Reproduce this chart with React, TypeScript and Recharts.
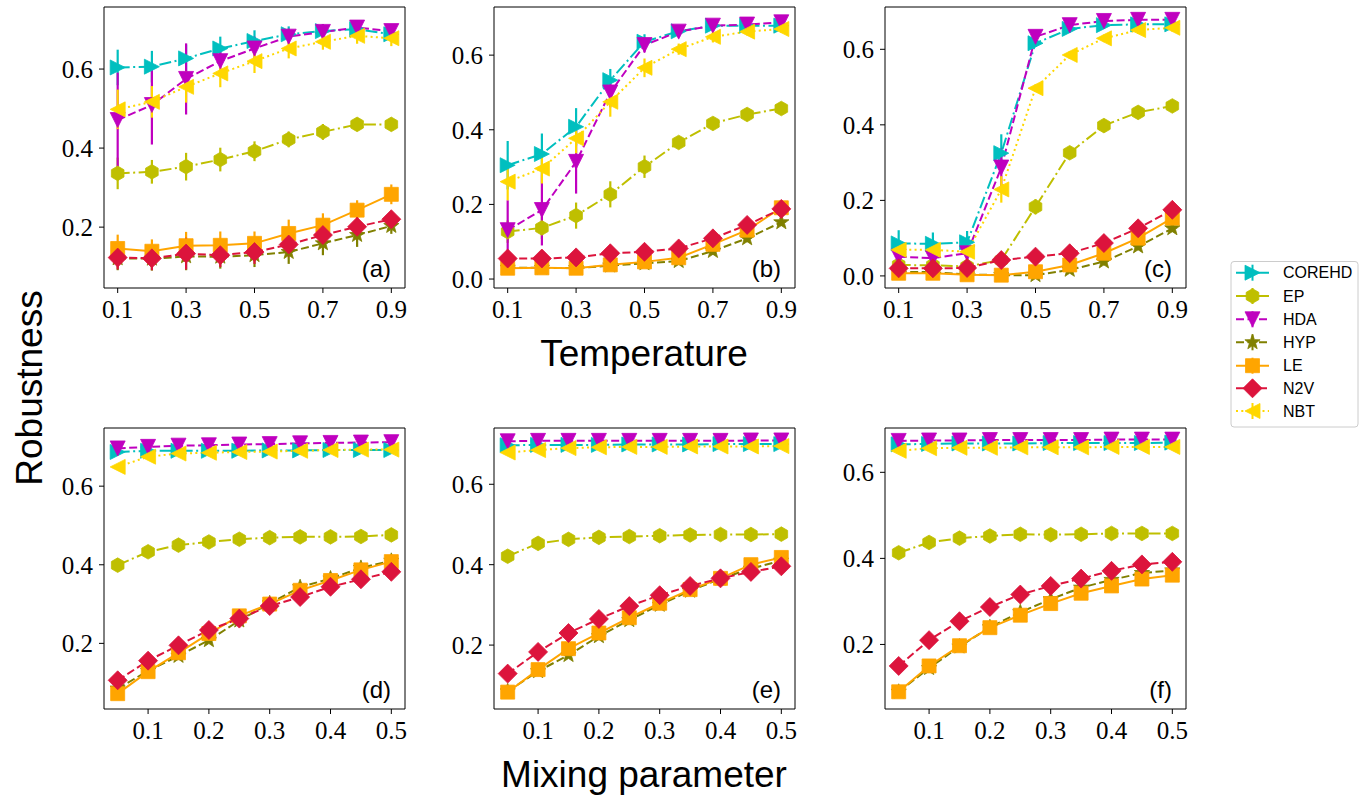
import React from 'react';
import { LineChart, Line, XAxis, YAxis, ErrorBar, ReferenceLine } from 'recharts';

// ---------- categories / axes ----------
const SERIES_NAMES = ['COREHD', 'EP', 'HDA', 'HYP', 'LE', 'N2V', 'NBT'];
const temperatureX = [0.1, 0.2, 0.3, 0.4, 0.5, 0.6, 0.7, 0.8, 0.9];
const mixingX = [0.05, 0.1, 0.15, 0.2, 0.25, 0.3, 0.35, 0.4, 0.45, 0.5];
const temperatureTicks = [0.1, 0.3, 0.5, 0.7, 0.9];
const mixingTicks = [0.1, 0.2, 0.3, 0.4, 0.5];
const yTicksA = [0.2, 0.4, 0.6];
const yTicksB = [0.0, 0.2, 0.4, 0.6];

// ---------- panel (a) ----------
const aCOREHD = [0.604, 0.606, 0.627, 0.652, 0.671, 0.688, 0.696, 0.701, 0.688];
const aEP = [0.336, 0.340, 0.353, 0.371, 0.392, 0.422, 0.441, 0.460, 0.460];
const aHDA = [0.471, 0.509, 0.575, 0.620, 0.652, 0.682, 0.694, 0.705, 0.696];
const aHYP = [0.121, 0.120, 0.126, 0.125, 0.129, 0.137, 0.159, 0.180, 0.203];
const aLE = [0.146, 0.139, 0.153, 0.154, 0.159, 0.184, 0.205, 0.243, 0.283];
const aN2V = [0.123, 0.121, 0.133, 0.129, 0.137, 0.156, 0.180, 0.201, 0.220];
const aNBT = [0.498, 0.517, 0.555, 0.589, 0.620, 0.652, 0.669, 0.684, 0.678];
const aCOREHDErr = [0.045, 0.04, 0.035, 0.03, 0.027, 0.02, 0.018, 0.015, 0.015];
const aEPErr = [0.04, 0.03, 0.035, 0.03, 0.025, 0.02, 0.02, 0.015, 0.012];
const aHDAErr = [0.12, 0.1, 0.09, 0.04, 0.03, 0.02, 0.02, 0.015, 0.015];
const aHYPErr = [0.03, 0.03, 0.035, 0.03, 0.03, 0.03, 0.03, 0.03, 0.02];
const aLEErr = [0.035, 0.03, 0.035, 0.035, 0.03, 0.035, 0.03, 0.025, 0.025];
const aN2VErr = [0.03, 0.03, 0.04, 0.03, 0.03, 0.03, 0.03, 0.025, 0.02];
const aNBTErr = [0.05, 0.04, 0.04, 0.035, 0.03, 0.025, 0.02, 0.02, 0.02];

// ---------- panel (b) ----------
const bCOREHD = [0.305, 0.335, 0.408, 0.533, 0.636, 0.664, 0.679, 0.679, 0.679];
const bEP = [0.127, 0.137, 0.170, 0.227, 0.301, 0.366, 0.417, 0.441, 0.457];
const bHDA = [0.131, 0.185, 0.314, 0.500, 0.627, 0.663, 0.679, 0.682, 0.688];
const bHYP = [0.030, 0.030, 0.029, 0.036, 0.042, 0.048, 0.075, 0.109, 0.152];
const bLE = [0.029, 0.030, 0.029, 0.038, 0.046, 0.057, 0.093, 0.131, 0.191];
const bN2V = [0.055, 0.055, 0.058, 0.069, 0.073, 0.082, 0.109, 0.145, 0.188];
const bNBT = [0.261, 0.296, 0.377, 0.475, 0.566, 0.616, 0.649, 0.663, 0.670];
const bCOREHDErr = [0.065, 0.055, 0.05, 0.03, 0.02, 0.015, 0.01, 0.01, 0.01];
const bEPErr = [0.03, 0.03, 0.035, 0.035, 0.03, 0.015, 0.01, 0.01, 0.01];
const bHDAErr = [0.08, 0.095, 0.085, 0.04, 0.02, 0.015, 0.01, 0.01, 0.01];
const bHYPErr = [0.01, 0.01, 0.01, 0.01, 0.01, 0.01, 0.01, 0.01, 0.01];
const bLEErr = [0.01, 0.01, 0.01, 0.01, 0.01, 0.01, 0.01, 0.01, 0.01];
const bN2VErr = [0.01, 0.01, 0.01, 0.01, 0.01, 0.01, 0.01, 0.01, 0.01];
const bNBTErr = [0.05, 0.04, 0.04, 0.04, 0.025, 0.015, 0.015, 0.01, 0.01];

// ---------- panel (c) ----------
const cCOREHD = [0.086, 0.085, 0.089, 0.325, 0.616, 0.654, 0.664, 0.666, 0.666];
const cEP = [0.029, 0.028, 0.025, 0.042, 0.183, 0.326, 0.398, 0.433, 0.450];
const cHDA = [0.051, 0.047, 0.060, 0.287, 0.633, 0.664, 0.675, 0.678, 0.678];
const cHYP = [0.011, 0.010, 0.004, 0.002, 0.002, 0.016, 0.038, 0.078, 0.126];
const cLE = [0.007, 0.007, 0.003, 0.002, 0.011, 0.029, 0.060, 0.100, 0.153];
const cN2V = [0.020, 0.020, 0.021, 0.042, 0.051, 0.060, 0.087, 0.126, 0.175];
const cNBT = [0.069, 0.069, 0.064, 0.229, 0.497, 0.585, 0.629, 0.651, 0.657];
const cCOREHDErr = [0.035, 0.03, 0.03, 0.05, 0.01, 0.01, 0.01, 0.01, 0.01];
const cEPErr = [0.005, 0.005, 0.005, 0.01, 0.02, 0.01, 0.01, 0.01, 0.01];
const cHDAErr = [0.02, 0.02, 0.02, 0.05, 0.01, 0.01, 0.01, 0.01, 0.01];
const cHYPErr = [0.005, 0.005, 0.005, 0.005, 0.005, 0.005, 0.01, 0.01, 0.01];
const cLEErr = [0.005, 0.005, 0.005, 0.005, 0.005, 0.005, 0.01, 0.01, 0.01];
const cN2VErr = [0.005, 0.005, 0.005, 0.005, 0.005, 0.005, 0.01, 0.01, 0.01];
const cNBTErr = [0.01, 0.01, 0.01, 0.035, 0.01, 0.01, 0.01, 0.01, 0.01];

// ---------- panel (d) ----------
const dCOREHD = [0.687, 0.690, 0.690, 0.690, 0.690, 0.691, 0.691, 0.692, 0.692, 0.692];
const dEP = [0.399, 0.433, 0.450, 0.458, 0.465, 0.469, 0.471, 0.471, 0.472, 0.476];
const dHDA = [0.696, 0.700, 0.703, 0.704, 0.706, 0.707, 0.709, 0.710, 0.711, 0.712];
const dHYP = [0.085, 0.130, 0.168, 0.208, 0.258, 0.302, 0.343, 0.365, 0.392, 0.410];
const dLE = [0.072, 0.128, 0.176, 0.225, 0.270, 0.300, 0.335, 0.360, 0.387, 0.408];
const dN2V = [0.106, 0.156, 0.195, 0.234, 0.263, 0.295, 0.318, 0.344, 0.363, 0.382];
const dNBT = [0.649, 0.675, 0.683, 0.685, 0.687, 0.688, 0.690, 0.692, 0.693, 0.693];

// ---------- panel (e) ----------
const eCOREHD = [0.697, 0.698, 0.698, 0.698, 0.699, 0.699, 0.699, 0.700, 0.700, 0.700];
const eEP = [0.421, 0.453, 0.463, 0.468, 0.470, 0.472, 0.474, 0.475, 0.475, 0.476];
const eHDA = [0.707, 0.708, 0.708, 0.708, 0.708, 0.708, 0.708, 0.708, 0.709, 0.709];
const eHYP = [0.085, 0.135, 0.175, 0.222, 0.262, 0.300, 0.335, 0.365, 0.390, 0.410];
const eLE = [0.083, 0.139, 0.191, 0.230, 0.268, 0.304, 0.338, 0.366, 0.400, 0.418];
const eN2V = [0.129, 0.183, 0.230, 0.265, 0.297, 0.324, 0.347, 0.366, 0.382, 0.396];
const eNBT = [0.679, 0.685, 0.690, 0.692, 0.693, 0.693, 0.694, 0.694, 0.694, 0.695];

// ---------- panel (f) ----------
const fCOREHD = [0.665, 0.666, 0.667, 0.667, 0.667, 0.668, 0.668, 0.668, 0.668, 0.669];
const fEP = [0.413, 0.437, 0.447, 0.452, 0.456, 0.455, 0.456, 0.458, 0.458, 0.458];
const fHDA = [0.673, 0.674, 0.674, 0.675, 0.675, 0.675, 0.675, 0.676, 0.676, 0.676];
const fHYP = [0.090, 0.145, 0.195, 0.240, 0.275, 0.305, 0.332, 0.350, 0.366, 0.372];
const fLE = [0.090, 0.150, 0.197, 0.239, 0.268, 0.295, 0.319, 0.336, 0.352, 0.361];
const fN2V = [0.150, 0.210, 0.254, 0.287, 0.316, 0.336, 0.353, 0.371, 0.386, 0.392];
const fNBT = [0.650, 0.656, 0.657, 0.657, 0.658, 0.658, 0.658, 0.659, 0.659, 0.659];

// ---------- styles ----------
const STYLE: Record<string, { color: string; dash?: string; shape: string }> = {
  COREHD: { color: '#00bfbf', dash: '12 3.5 2 3.5', shape: 'tri-right' },
  EP: { color: '#bfbf00', dash: '12 3.5 2 3.5', shape: 'hexagon' },
  HDA: { color: '#bf00bf', dash: '8 3.5', shape: 'tri-down' },
  HYP: { color: '#808000', dash: '8 3.5', shape: 'star' },
  LE: { color: '#ffa500', dash: undefined, shape: 'square' },
  N2V: { color: '#dc143c', dash: '8 3.5', shape: 'diamond' },
  NBT: { color: '#ffd700', dash: '2 3.3', shape: 'tri-left' },
};

function markerPath(shape: string, cx: number, cy: number): string {
  const h = 7.5;
  switch (shape) {
    case 'tri-right':
      return `M${cx + h},${cy} L${cx - h},${cy - h} L${cx - h},${cy + h} Z`;
    case 'tri-left':
      return `M${cx - h},${cy} L${cx + h},${cy - h} L${cx + h},${cy + h} Z`;
    case 'tri-down':
      return `M${cx},${cy + h} L${cx - h},${cy - h} L${cx + h},${cy - h} Z`;
    case 'square': {
      const s = 7;
      return `M${cx - s},${cy - s} L${cx + s},${cy - s} L${cx + s},${cy + s} L${cx - s},${cy + s} Z`;
    }
    case 'diamond': {
      const d = 9.5;
      return `M${cx},${cy - d} L${cx + d},${cy} L${cx},${cy + d} L${cx - d},${cy} Z`;
    }
    case 'hexagon': {
      const r = 7.3;
      let p = '';
      for (let k = 0; k < 6; k++) {
        const a = (Math.PI / 180) * (90 + 60 * k);
        p += `${k === 0 ? 'M' : 'L'}${cx + r * Math.cos(a)},${cy - r * Math.sin(a)} `;
      }
      return p + 'Z';
    }
    case 'star': {
      const R = 8, r = 3.3;
      let p = '';
      for (let k = 0; k < 10; k++) {
        const rad = k % 2 === 0 ? R : r;
        const a = (Math.PI / 180) * (90 + 36 * k);
        p += `${k === 0 ? 'M' : 'L'}${cx + rad * Math.cos(a)},${cy - rad * Math.sin(a)} `;
      }
      return p + 'Z';
    }
    default:
      return '';
  }
}

const makeDot = (name: string) => (props: any) => {
  const { cx, cy, index } = props;
  const st = STYLE[name];
  if (cx == null || cy == null || isNaN(cx) || isNaN(cy)) return <g key={`${name}-${index}`} />;
  return (
    <path
      key={`${name}-${index}`}
      d={markerPath(st.shape, cx, cy)}
      fill={st.color}
      stroke={st.color}
      strokeWidth={0.8}
    />
  );
};

interface PanelSpec {
  label: string;
  left: number;
  top: number;
  x: number[];
  xDomain: [number, number];
  xTicks: number[];
  yDomain: [number, number];
  yTicks: number[];
  values: Record<string, number[]>;
  errors?: Record<string, number[]>;
}

const PLOT_W = 301;
const PLOT_H = 281;
const Y_AXIS_W = 60;
const M_TOP = 5;
const M_RIGHT = 5;
const X_AXIS_H = 42;

const PANELS: PanelSpec[] = [
  {
    label: '(a)', left: 104, top: 7, x: temperatureX, xDomain: [0.06, 0.94], xTicks: temperatureTicks,
    yDomain: [0.046, 0.757], yTicks: yTicksA,
    values: { COREHD: aCOREHD, EP: aEP, HDA: aHDA, HYP: aHYP, LE: aLE, N2V: aN2V, NBT: aNBT },
    errors: { COREHD: aCOREHDErr, EP: aEPErr, HDA: aHDAErr, HYP: aHYPErr, LE: aLEErr, N2V: aN2VErr, NBT: aNBTErr },
  },
  {
    label: '(b)', left: 494, top: 7, x: temperatureX, xDomain: [0.06, 0.94], xTicks: temperatureTicks,
    yDomain: [-0.024, 0.729], yTicks: yTicksB,
    values: { COREHD: bCOREHD, EP: bEP, HDA: bHDA, HYP: bHYP, LE: bLE, N2V: bN2V, NBT: bNBT },
    errors: { COREHD: bCOREHDErr, EP: bEPErr, HDA: bHDAErr, HYP: bHYPErr, LE: bLEErr, N2V: bN2VErr, NBT: bNBTErr },
  },
  {
    label: '(c)', left: 885, top: 7, x: temperatureX, xDomain: [0.06, 0.94], xTicks: temperatureTicks,
    yDomain: [-0.032, 0.712], yTicks: yTicksB,
    values: { COREHD: cCOREHD, EP: cEP, HDA: cHDA, HYP: cHYP, LE: cLE, N2V: cN2V, NBT: cNBT },
    errors: { COREHD: cCOREHDErr, EP: cEPErr, HDA: cHDAErr, HYP: cHYPErr, LE: cLEErr, N2V: cN2VErr, NBT: cNBTErr },
  },
  {
    label: '(d)', left: 104, top: 428, x: mixingX, xDomain: [0.0275, 0.5225], xTicks: mixingTicks,
    yDomain: [0.033, 0.748], yTicks: yTicksA,
    values: { COREHD: dCOREHD, EP: dEP, HDA: dHDA, HYP: dHYP, LE: dLE, N2V: dN2V, NBT: dNBT },
  },
  {
    label: '(e)', left: 494, top: 428, x: mixingX, xDomain: [0.0275, 0.5225], xTicks: mixingTicks,
    yDomain: [0.041, 0.740], yTicks: yTicksA,
    values: { COREHD: eCOREHD, EP: eEP, HDA: eHDA, HYP: eHYP, LE: eLE, N2V: eN2V, NBT: eNBT },
  },
  {
    label: '(f)', left: 885, top: 428, x: mixingX, xDomain: [0.0275, 0.5225], xTicks: mixingTicks,
    yDomain: [0.050, 0.703], yTicks: yTicksA,
    values: { COREHD: fCOREHD, EP: fEP, HDA: fHDA, HYP: fHYP, LE: fLE, N2V: fN2V, NBT: fNBT },
  },
];

const tickStyle = { fontFamily: '"Liberation Serif", serif', fontSize: 25, fill: '#000' };

function Panel({ spec }: { spec: PanelSpec }) {
  const data = spec.x.map((xv, i) => {
    const row: Record<string, number> = { x: xv };
    SERIES_NAMES.forEach((n) => {
      row[n] = spec.values[n][i];
      if (spec.errors) row[`${n}_err`] = spec.errors[n][i];
    });
    return row;
  });
  return (
    <div
      style={{
        position: 'absolute',
        left: spec.left - Y_AXIS_W,
        top: spec.top - M_TOP,
      }}
    >
      <LineChart
        width={Y_AXIS_W + PLOT_W + M_RIGHT}
        height={M_TOP + PLOT_H + X_AXIS_H}
        data={data}
        margin={{ top: M_TOP, right: M_RIGHT, bottom: 0, left: 0 }}
      >
        <XAxis
          dataKey="x"
          type="number"
          domain={spec.xDomain}
          allowDataOverflow
          ticks={spec.xTicks}
          interval={0}
          tickFormatter={(v: number) => v.toFixed(1)}
          tick={tickStyle}
          tickSize={5}
          tickMargin={7}
          height={X_AXIS_H}
          axisLine={{ stroke: '#000', strokeWidth: 1 }}
          tickLine={{ stroke: '#000', strokeWidth: 1 }}
        />
        <YAxis
          type="number"
          domain={spec.yDomain}
          allowDataOverflow
          ticks={spec.yTicks}
          interval={0}
          tickFormatter={(v: number) => v.toFixed(1)}
          tick={tickStyle}
          tickSize={5}
          tickMargin={6}
          width={Y_AXIS_W}
          axisLine={{ stroke: '#000', strokeWidth: 1 }}
          tickLine={{ stroke: '#000', strokeWidth: 1 }}
        />
        <ReferenceLine y={spec.yDomain[1]} stroke="#000" strokeWidth={1} ifOverflow="visible" />
        <ReferenceLine x={spec.xDomain[1]} stroke="#000" strokeWidth={1} ifOverflow="visible" />
        {SERIES_NAMES.map((n) => (
          <Line
            key={n}
            dataKey={n}
            type="linear"
            stroke={STYLE[n].color}
            strokeWidth={2}
            strokeDasharray={STYLE[n].dash}
            dot={makeDot(n)}
            activeDot={false}
            isAnimationActive={false}
          >
            {spec.errors ? (
              <ErrorBar
                dataKey={`${n}_err`}
                direction="y"
                width={0}
                stroke={STYLE[n].color}
                strokeWidth={2.2}
                isAnimationActive={false}
              />
            ) : null}
          </Line>
        ))}
      </LineChart>
    </div>
  );
}

function Overlay() {
  const sans = '"Liberation Sans", Arial, sans-serif';
  const legendRows = [272.7, 296, 319.3, 342.3, 365.7, 388.3, 411];
  return (
    <svg
      width={1367}
      height={799}
      style={{ position: 'absolute', left: 0, top: 0, pointerEvents: 'none' }}
    >
      {PANELS.map((p) => (
        <text
          key={p.label}
          x={p.left + PLOT_W - 14}
          y={p.top + 270}
          textAnchor="end"
          fontFamily={sans}
          fontSize={24}
          fill="#000"
        >
          {p.label}
        </text>
      ))}
      <text x={644} y={366} textAnchor="middle" fontFamily={sans} fontSize={37} fill="#000">
        Temperature
      </text>
      <text x={644} y={787} textAnchor="middle" fontFamily={sans} fontSize={37} fill="#000">
        Mixing parameter
      </text>
      <text
        x={0}
        y={0}
        transform="translate(42,388) rotate(-90)"
        textAnchor="middle"
        fontFamily={sans}
        fontSize={37}
        fill="#000"
      >
        Robustness
      </text>
      {/* legend */}
      <rect x={1231} y={261.5} width={127} height={165.5} rx={3} fill="#fff" stroke="#cccccc" strokeWidth={1} />
      {SERIES_NAMES.map((n, i) => {
        const y = legendRows[i];
        const st = STYLE[n];
        return (
          <g key={n}>
            <line x1={1236} y1={y} x2={1269} y2={y} stroke={st.color} strokeWidth={2} strokeDasharray={st.dash} />
            <line x1={1252.5} y1={y - 8} x2={1252.5} y2={y + 8} stroke={st.color} strokeWidth={2} />
            <path d={markerPath(st.shape, 1252.5, y)} fill={st.color} stroke={st.color} strokeWidth={0.8} />
            <text x={1283} y={y} dominantBaseline="central" fontFamily={sans} fontSize={16} fill="#000">
              {n}
            </text>
          </g>
        );
      })}
    </svg>
  );
}

export default function App() {
  return (
    <div
      style={{
        position: 'absolute',
        left: 0,
        top: 0,
        width: 1367,
        height: 799,
        background: '#fff',
        overflow: 'hidden',
      }}
    >
      {PANELS.map((p) => (
        <Panel key={p.label} spec={p} />
      ))}
      <Overlay />
    </div>
  );
}
